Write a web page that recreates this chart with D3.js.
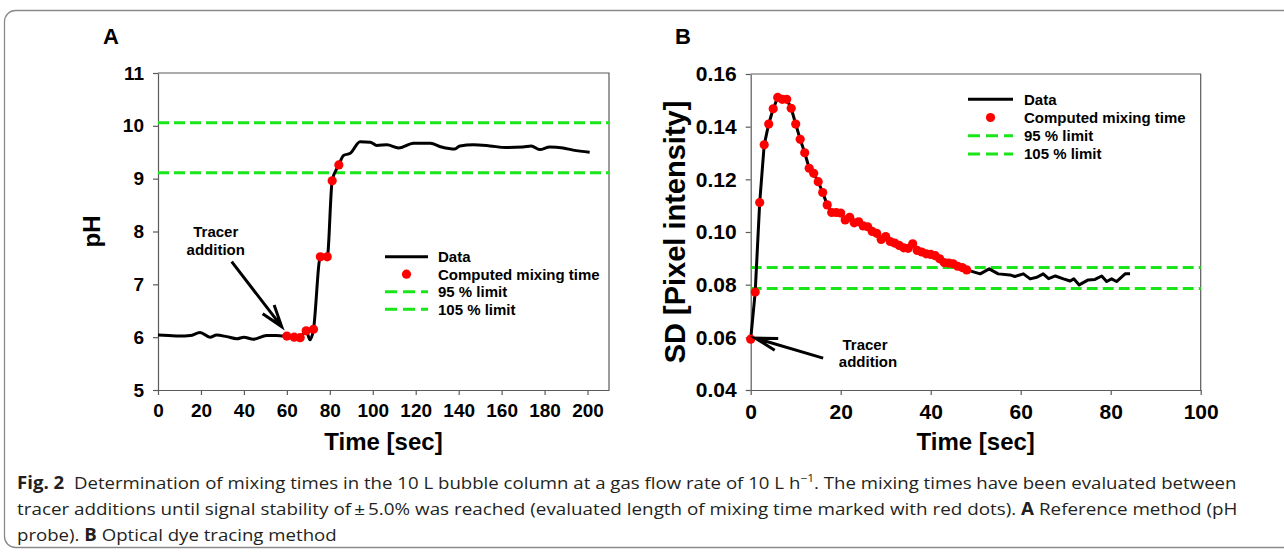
<!DOCTYPE html>
<html>
<head>
<meta charset="utf-8">
<script src="https://cdn.jsdelivr.net/npm/d3@7"></script>
<style>
  body { margin: 0; background: #fff; }
  svg { display: block; }
  .bold { font-family: "Liberation Sans", Arial, sans-serif; font-weight: bold; fill: #000; }
</style>
</head>
<body>
<svg id="fig" width="1284" height="552"></svg>
<script>
// ---- panel A: pH probe (reference method) ----
const timeA = [0, 5, 10, 15, 19.6, 24.2, 27.3, 32, 36.7, 40, 44.4, 50.6, 55, 58.4, 60, 63.4, 66.2, 69, 70.8, 72.4,
  75.6, 78.8, 81.1, 84.2, 86.4, 89.5, 94.1, 98.8, 101.9, 106.6, 112, 119, 126.8, 132, 138.2, 140.6, 146.8, 154.5,
  162, 169.9, 173.8, 177.7, 182.4, 188.6, 193.3, 201];
const phA = [6.04, 6.03, 6.02, 6.03, 6.09, 6.0, 6.04, 6.01, 5.97, 6.0, 5.96, 6.03, 6.03, 6.02, 6.02, 6.0, 5.99, 6.12, 5.95, 6.15,
  7.52, 7.52, 8.96, 9.26, 9.44, 9.48, 9.70, 9.69, 9.63, 9.64, 9.58, 9.67, 9.67, 9.60, 9.56, 9.62, 9.64, 9.62,
  9.59, 9.60, 9.62, 9.55, 9.60, 9.58, 9.54, 9.50];
const mixTimeA = [60, 63.4, 66.2, 69, 72.4, 75.6, 78.8, 81.1, 84.2];
const mixValA = [6.02, 6.0, 5.99, 6.12, 6.15, 7.52, 7.52, 8.96, 9.26];
const limitsA = [10.06, 9.11];
const xTicksA = [0, 20, 40, 60, 80, 100, 120, 140, 160, 180, 200];
const yTicksA = [5, 6, 7, 8, 9, 10, 11];

// ---- panel B: optical dye tracing ----
const timeB = [0, 1, 2, 3, 4, 5, 6, 7, 8, 9, 10, 11, 12, 13, 14, 15, 16, 17, 18, 19, 20, 21, 22, 23, 24, 25, 26, 27,
  28, 29, 30, 31, 32, 33, 34, 35, 36, 37, 38, 39, 40, 41, 42, 43, 44, 45, 46, 47, 48,
  51, 53, 55, 57.6, 58.7, 60.6, 62.1, 63.6, 65, 66.2, 67.7, 69.5, 71, 71.8, 73, 75, 76.5, 78, 79.1, 80.2, 81.3, 83.2, 84.3];
const sdB = [0.0593, 0.0772, 0.1112, 0.1331, 0.1410, 0.1468, 0.1511, 0.1504, 0.1504, 0.1470, 0.1410, 0.1352, 0.1301,
  0.1242, 0.1223, 0.1191, 0.1150, 0.1103, 0.1074, 0.1074, 0.1072, 0.1046, 0.1056, 0.1035, 0.1039, 0.1023, 0.1020,
  0.1002, 0.0995, 0.0972, 0.0983, 0.0964, 0.0958, 0.0949, 0.0940, 0.0938, 0.0955, 0.0930, 0.0924, 0.0917, 0.0915,
  0.0910, 0.0898, 0.0884, 0.0882, 0.0879, 0.0870, 0.0865, 0.0856,
  0.0841, 0.0860, 0.0841, 0.0837, 0.0831, 0.0841, 0.0822, 0.0828, 0.0841, 0.0823, 0.0833, 0.0822, 0.0814, 0.0822,
  0.0799, 0.0818, 0.0820, 0.0833, 0.0812, 0.0822, 0.0812, 0.0841, 0.0841];
const mixEndB = 48; // red dots up to here
const limitsB = [0.0865, 0.0785];
const xTicksB = [0, 20, 40, 60, 80, 100];
const yTicksB = [0.04, 0.06, 0.08, 0.10, 0.12, 0.14, 0.16];

const legendLabels = ['Data', 'Computed mixing time', '95 % limit', '105 % limit'];

const GREEN = '#19e619';
const RED = '#ff0000';
const AXIS = '#5a5a5a';

const svg = d3.select('#fig');

// figure frame (rounded, runs off the right side)
svg.append('rect')
  .attr('x', 4.5).attr('y', 10.5)
  .attr('width', 1320).attr('height', 537)
  .attr('rx', 11)
  .attr('fill', 'none')
  .attr('stroke', '#8a8a8a')
  .attr('stroke-width', 1.3);

function drawPanel(o) {
  const g = svg.append('g');
  const x = d3.scaleLinear().domain(o.xDomain).range(o.xRange);
  const y = d3.scaleLinear().domain(o.yDomain).range(o.yRange);

  // top and right border
  g.append('path')
    .attr('d', `M${o.xRange[0]},${o.yRange[1]}H${o.xRange[1]}V${o.yRange[0]}`)
    .attr('fill', 'none').attr('stroke', AXIS).attr('stroke-width', 1.2);

  const xAxis = g.append('g')
    .attr('transform', `translate(0,${o.yRange[0]})`)
    .call(d3.axisBottom(x).tickValues(o.xTicks).tickSize(5).tickSizeOuter(0).tickPadding(9));
  const yAxis = g.append('g')
    .attr('transform', `translate(${o.xRange[0]},0)`)
    .call(d3.axisLeft(y).tickValues(o.yTicks).tickSize(5).tickSizeOuter(0).tickPadding(9).tickFormat(o.yFormat));

  [xAxis, yAxis].forEach(a => {
    a.select('.domain').attr('stroke', AXIS).attr('stroke-width', 1.2);
    a.selectAll('.tick line').attr('stroke', AXIS).attr('stroke-width', 1.2);
    a.selectAll('.tick text').attr('class', 'bold').attr('font-size', o.tickSize);
  });

  // axis titles
  g.append('text').attr('class', 'bold')
    .attr('x', (o.xRange[0] + o.xRange[1]) / 2).attr('y', o.yRange[0] + 60)
    .attr('text-anchor', 'middle').attr('font-size', 24)
    .text('Time [sec]');
  g.append('text').attr('class', 'bold')
    .attr('transform', `translate(${o.yTitleX},${(o.yRange[0] + o.yRange[1]) / 2}) rotate(-90)`)
    .attr('text-anchor', 'middle').attr('font-size', o.yTitleSize)
    .text(o.yTitle);

  // panel letter
  g.append('text').attr('class', 'bold')
    .attr('x', o.letterX).attr('y', 44)
    .attr('font-size', 22)
    .text(o.letter);

  // limit lines
  g.selectAll('line.limit')
    .data(o.limits)
    .enter().append('line')
    .attr('class', 'limit')
    .attr('x1', o.xRange[0]).attr('x2', o.xRange[1])
    .attr('y1', d => y(d)).attr('y2', d => y(d))
    .attr('stroke', GREEN).attr('stroke-width', 3)
    .attr('stroke-dasharray', '11,5');

  // data line
  const pts = o.time.map((t, i) => [t, o.vals[i]]);
  g.append('path')
    .datum(pts)
    .attr('fill', 'none')
    .attr('stroke', '#000')
    .attr('stroke-width', 3)
    .attr('stroke-linejoin', 'round')
    .attr('d', d3.line().x(d => x(d[0])).y(d => y(d[1])).curve(o.curve));

  // computed mixing time dots
  g.selectAll('circle.mix')
    .data(o.dots)
    .enter().append('circle')
    .attr('class', 'mix')
    .attr('cx', d => x(d[0])).attr('cy', d => y(d[1]))
    .attr('r', 4.6)
    .attr('fill', RED);

  // annotation "Tracer addition" with open arrow
  const a = o.arrow;
  const tail = [x(a.from[0]), y(a.from[1])];
  const tip = [x(a.to[0]), y(a.to[1])];
  const ang = Math.atan2(tail[1] - tip[1], tail[0] - tip[0]);
  const hl = 23, spread = a.spread;
  const h1 = [tip[0] + hl * Math.cos(ang + spread), tip[1] + hl * Math.sin(ang + spread)];
  const h2 = [tip[0] + hl * Math.cos(ang - spread), tip[1] + hl * Math.sin(ang - spread)];
  g.append('path')
    .attr('d', `M${tail}L${tip}M${h1}L${tip}L${h2}`)
    .attr('fill', 'none').attr('stroke', '#000').attr('stroke-width', 3)
    .attr('stroke-linecap', 'butt');
  const lbl = g.append('text').attr('class', 'bold')
    .attr('text-anchor', 'middle').attr('font-size', 15);
  lbl.append('tspan').attr('x', x(a.text[0])).attr('y', y(a.text[1])).attr('dy', '0.36em').text('Tracer');
  lbl.append('tspan').attr('x', x(a.text[0]) + a.dx2).attr('dy', a.lead).text('addition');

  // legend
  const L = o.legend;
  const rows = g.append('g').selectAll('g')
    .data(legendLabels)
    .enter().append('g')
    .attr('transform', (d, i) => `translate(${L.x},${L.y + i * L.step})`);
  rows.append('text').attr('class', 'bold')
    .attr('x', L.textX).attr('dy', '0.36em')
    .attr('font-size', 15)
    .text(d => d);
  rows.filter((d, i) => i === 0).append('line')
    .attr('x1', 0).attr('x2', L.len)
    .attr('stroke', '#000').attr('stroke-width', 3);
  rows.filter((d, i) => i === 1).append('circle')
    .attr('cx', L.len / 2).attr('r', 4.6).attr('fill', RED);
  rows.filter((d, i) => i >= 2).append('line')
    .attr('x1', 0).attr('x2', L.len)
    .attr('stroke', GREEN).attr('stroke-width', 3)
    .attr('stroke-dasharray', '12,6');
}

drawPanel({
  letter: 'A', letterX: 103,
  xDomain: [0, 210], xRange: [158, 609],
  yDomain: [5, 11], yRange: [390, 73],
  xTicks: xTicksA, yTicks: yTicksA, yFormat: d3.format('d'),
  tickSize: 19,
  yTitle: 'pH', yTitleX: 100, yTitleSize: 24,
  limits: limitsA,
  time: timeA, vals: phA, curve: d3.curveMonotoneX,
  dots: mixTimeA.map((t, i) => [t, mixValA[i]]),
  arrow: { from: [34.3, 7.43], to: [57.6, 6.2], spread: 0.32, text: [26.9, 8.0], dx2: 0, lead: 17.6 },
  legend: { x: 385, y: 256.7, step: 17.5, len: 43, textX: 53 }
});

drawPanel({
  letter: 'B', letterX: 675,
  xDomain: [0, 100], xRange: [750.7, 1200.7],
  yDomain: [0.04, 0.16], yRange: [390, 74],
  xTicks: xTicksB, yTicks: yTicksB, yFormat: d3.format('.2f'),
  tickSize: 21,
  yTitle: 'SD [Pixel intensity]', yTitleX: 685, yTitleSize: 29,
  limits: limitsB,
  time: timeB, vals: sdB, curve: d3.curveLinear,
  dots: timeB.map((t, i) => [t, sdB[i]]).filter(d => d[0] <= mixEndB),
  arrow: { from: [16.1, 0.0521], to: [1.0, 0.0597], spread: 0.27, text: [25.4, 0.0572], dx2: 3, lead: 16.7 },
  legend: { x: 968, y: 99.3, step: 18.2, len: 45, textX: 56 }
});

// ---- caption ----
const captionLines = [
  [{ t: 'Fig. 2', b: true }, { t: '  Determination of mixing times in the 10 L bubble column at a gas flow rate of 10 L h' },
   { t: '\u22121', sup: true }, { t: '. The mixing times have been evaluated between' }],
  [{ t: 'tracer additions until signal stability of\u2009\u00b1\u20095.0% was reached (evaluated length of mixing time marked with red dots). ' },
   { t: 'A', b: true }, { t: ' Reference method (pH' }],
  [{ t: 'probe). ' }, { t: 'B', b: true }, { t: ' Optical dye tracing method' }]
];
const capBase = [489, 515, 541];
const capWidth = [1220, 1221, null]; // last line is ragged
const cap = svg.append('g');
const capTexts = captionLines.map((segs, li) => {
  const t = cap.append('text')
    .attr('font-family', '"Open Sans", "Noto Sans", sans-serif')
    .attr('font-size', 17)
    .attr('fill', '#231f20')
    .attr('xml:space', 'preserve');
  segs.forEach(s => {
    const sp = t.append('tspan').text(s.t);
    if (s.b) sp.attr('font-weight', 'bold');
    if (s.sup) sp.attr('font-size', 11).attr('baseline-shift', '7');
  });
  return t;
});
// horizontally condense to the measured line widths
const baseScale = 1220 / capTexts[0].node().getComputedTextLength();
capTexts.forEach((t, i) => {
  const s = capWidth[i] ? capWidth[i] / t.node().getComputedTextLength() : baseScale;
  t.attr('transform', `translate(17,${capBase[i]}) scale(${s},1)`);
});
</script>
</body>
</html>
